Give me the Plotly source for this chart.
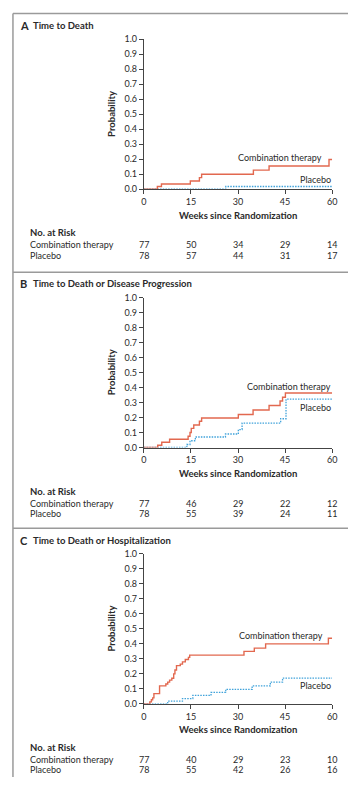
import plotly.graph_objects as go

# The page body has an 8px margin, so the figure is sized to fit inside it
OFF = 8
W, H = 348, 781

# ---------------- data ----------------
panel_letters = ["A", "B", "C"]
panel_titles = ["Time to Death", "Time to Death or Disease Progression", "Time to Death or Hospitalization"]

A_comb_t = [0, 4.3, 5.6, 14.8, 17.7, 18.4, 34.9, 39.9, 59.0, 60]
A_comb_p = [0, 0.018, 0.035, 0.055, 0.077, 0.10, 0.127, 0.155, 0.198, 0.198]
A_plac_t = [0, 26.1, 60]
A_plac_p = [0, 0.018, 0.018]

B_comb_t = [0, 4.4, 5.7, 8.2, 14.1, 14.7, 15.1, 15.9, 17.7, 18.4, 30.1, 34.8, 39.9, 43.4, 44.2, 45.1, 60]
B_comb_p = [0, 0.015, 0.035, 0.055, 0.075, 0.10, 0.128, 0.15, 0.175, 0.197, 0.22, 0.25, 0.28, 0.31, 0.335, 0.364, 0.364]
B_plac_t = [0, 13.7, 14.7, 16.4, 26.0, 30.1, 31.3, 43.6, 45.3, 60]
B_plac_p = [0, 0.02, 0.045, 0.07, 0.09, 0.12, 0.163, 0.192, 0.323, 0.323]

C_comb_t = [0, 1.9, 2.4, 2.8, 3.2, 5.0, 7.0, 7.6, 8.2, 8.9, 9.5, 9.9, 10.4, 11.6, 12.3, 13.2, 14.2, 14.6, 31.9, 35.2, 38.8, 58.8, 60]
C_comb_p = [0, 0.013, 0.027, 0.04, 0.068, 0.12, 0.132, 0.145, 0.158, 0.171, 0.2, 0.226, 0.255, 0.265, 0.28, 0.296, 0.31, 0.325, 0.35, 0.372, 0.40, 0.438, 0.438]
C_plac_t = [0, 7.6, 12.3, 15.6, 21.4, 26.1, 34.5, 40.3, 44.2, 60]
C_plac_p = [0, 0.018, 0.035, 0.056, 0.076, 0.097, 0.12, 0.145, 0.172, 0.172]

risk_weeks = [0, 15, 30, 45, 60]
A_risk_comb = [77, 50, 34, 29, 14]
A_risk_plac = [78, 57, 44, 31, 17]
B_risk_comb = [77, 46, 29, 22, 12]
B_risk_plac = [78, 55, 39, 24, 11]
C_risk_comb = [77, 40, 29, 23, 10]
C_risk_plac = [78, 55, 42, 26, 16]

x_ticks = [0, 15, 30, 45, 60]
y_ticks = [0, 0.1, 0.2, 0.3, 0.4, 0.5, 0.6, 0.7, 0.8, 0.9, 1.0]
y_tick_text = ["0.0", "0.1", "0.2", "0.3", "0.4", "0.5", "0.6", "0.7", "0.8", "0.9", "1.0"]

arm_names = ["Combination therapy", "Placebo"]
# label anchors (week, probability) for in-plot labels
A_labels = [(56.8, 0.21), (59.7, 0.065)]
B_labels = [(59.7, 0.41), (59.7, 0.268)]
C_labels = [(57.0, 0.455), (59.7, 0.12)]

panels = [
    dict(comb=(A_comb_t, A_comb_p), plac=(A_plac_t, A_plac_p), risk=(A_risk_comb, A_risk_plac), labels=A_labels, zero=185.7),
    dict(comb=(B_comb_t, B_comb_p), plac=(B_plac_t, B_plac_p), risk=(B_risk_comb, B_risk_plac), labels=B_labels, zero=447.7),
    dict(comb=(C_comb_t, C_comb_p), plac=(C_plac_t, C_plac_p), risk=(C_risk_comb, C_risk_plac), labels=C_labels, zero=707.7),
]

# ---------------- styling ----------------
FONT = "Lato"
TXT = "#2a2a2a"
RED = "#E2684F"
BLUE = "#3FA2DA"
AXC = "#444444"
X0_PX, X1_PX = 144.0, 336.7
PLOT_H = 152.0


def py(px):
    return 1 - (px - OFF) / H


def pxx(px):
    return (px - OFF) / W


def ann(**kw):
    d = dict(showarrow=False, borderpad=0, borderwidth=0)
    d.update(kw)
    return d


fig = go.Figure()
annotations = []
shapes = []

for i, p in enumerate(panels):
    n = "" if i == 0 else str(i + 1)
    xa, ya = "x" + n, "y" + n
    zero = p["zero"]
    top = zero - PLOT_H
    fig.add_trace(go.Scatter(x=p["plac"][0], y=p["plac"][1], mode="lines", line_shape="hv",
                             line=dict(color=BLUE, width=1.3, dash="1.5px,1.2px"), cliponaxis=False,
                             xaxis=xa, yaxis=ya, showlegend=False, hoverinfo="skip"))
    fig.add_trace(go.Scatter(x=p["comb"][0], y=p["comb"][1], mode="lines", line_shape="hv",
                             line=dict(color=RED, width=1.4), cliponaxis=False,
                             xaxis=xa, yaxis=ya, showlegend=False, hoverinfo="skip"))
    fig.layout["xaxis" + n] = dict(
        domain=[pxx(X0_PX), pxx(X1_PX)], range=[0, 60], anchor=ya,
        tickvals=x_ticks, ticks="outside", ticklen=4, tickwidth=1, tickcolor=AXC,
        showline=True, linecolor=AXC, linewidth=1, showgrid=False, zeroline=False,
        tickfont=dict(family=FONT, size=9, color=TXT), fixedrange=True)
    fig.layout["yaxis" + n] = dict(
        domain=[py(zero), py(top)], range=[0, 1], anchor=xa,
        tickvals=y_ticks, ticktext=y_tick_text, ticks="outside", ticklen=4, tickwidth=1, tickcolor=AXC,
        showline=True, linecolor=AXC, linewidth=1, showgrid=False, zeroline=False,
        tickfont=dict(family=FONT, size=9, color=TXT), fixedrange=True)

    # panel title
    annotations.append(ann(x=pxx(17), y=py(zero - 166), xref="paper", yref="paper", xanchor="left", yanchor="middle",
                           text="<b>" + panel_letters[i] + "</b>", font=dict(family=FONT, size=11, color=TXT)))
    annotations.append(ann(x=pxx(31), y=py(zero - 166), xref="paper", yref="paper", xanchor="left", yanchor="middle",
                           text="<b>" + panel_titles[i] + "</b>", font=dict(family=FONT, size=9.5, color=TXT)))
    # y title
    annotations.append(ann(x=pxx(111), y=py(zero - PLOT_H / 2), xref="paper", yref="paper", xanchor="center", yanchor="middle",
                           text="<b>Probability</b>", textangle=-90, font=dict(family=FONT, size=9.5, color=TXT)))
    # x title
    annotations.append(ann(x=pxx((X0_PX + X1_PX) / 2), y=py(zero + 26.3), xref="paper", yref="paper", xanchor="center", yanchor="middle",
                           text="<b>Weeks since Randomization</b>", font=dict(family=FONT, size=9.5, color=TXT)))
    # in-plot labels
    for (lx, lyv), name in zip(p["labels"], arm_names):
        annotations.append(ann(x=lx, y=lyv, xref=xa, yref=ya, xanchor="right", yanchor="middle",
                               text=name, font=dict(family=FONT, size=9, color=TXT)))
    # number at risk
    annotations.append(ann(x=pxx(27), y=py(zero + 44.3), xref="paper", yref="paper", xanchor="left", yanchor="middle",
                           text="<b>No. at Risk</b>", font=dict(family=FONT, size=9.5, color=TXT)))
    for r, (name, vals) in enumerate(zip(arm_names, p["risk"])):
        yy = py(zero + 56.3 + r * 10.7)
        annotations.append(ann(x=pxx(27), y=yy, xref="paper", yref="paper", xanchor="left", yanchor="middle",
                               text=name, font=dict(family=FONT, size=9, color=TXT)))
        for wk, v in zip(risk_weeks, vals):
            annotations.append(ann(x=wk, y=yy, xref=xa, yref="paper", xanchor="center", yanchor="middle",
                                   text=str(v), font=dict(family=FONT, size=9, color=TXT)))

# frame lines
BORDER = "#9a9a9a"
for yb in [7.5, 270, 529.5]:
    shapes.append(dict(type="line", xref="paper", yref="paper", x0=pxx(10), x1=1, y0=py(yb), y1=py(yb),
                       line=dict(color=BORDER, width=1.5)))
shapes.append(dict(type="line", xref="paper", yref="paper", x0=pxx(10), x1=pxx(10), y0=py(7.5), y1=py(782),
                   line=dict(color=BORDER, width=1.5)))

fig.update_layout(width=W, height=H, margin=dict(l=0, r=0, t=0, b=0),
                  paper_bgcolor="white", plot_bgcolor="white",
                  annotations=annotations, shapes=shapes,
                  font=dict(family=FONT, size=9, color=TXT))

fig.write_html("out.html", config={"displayModeBar": False})
